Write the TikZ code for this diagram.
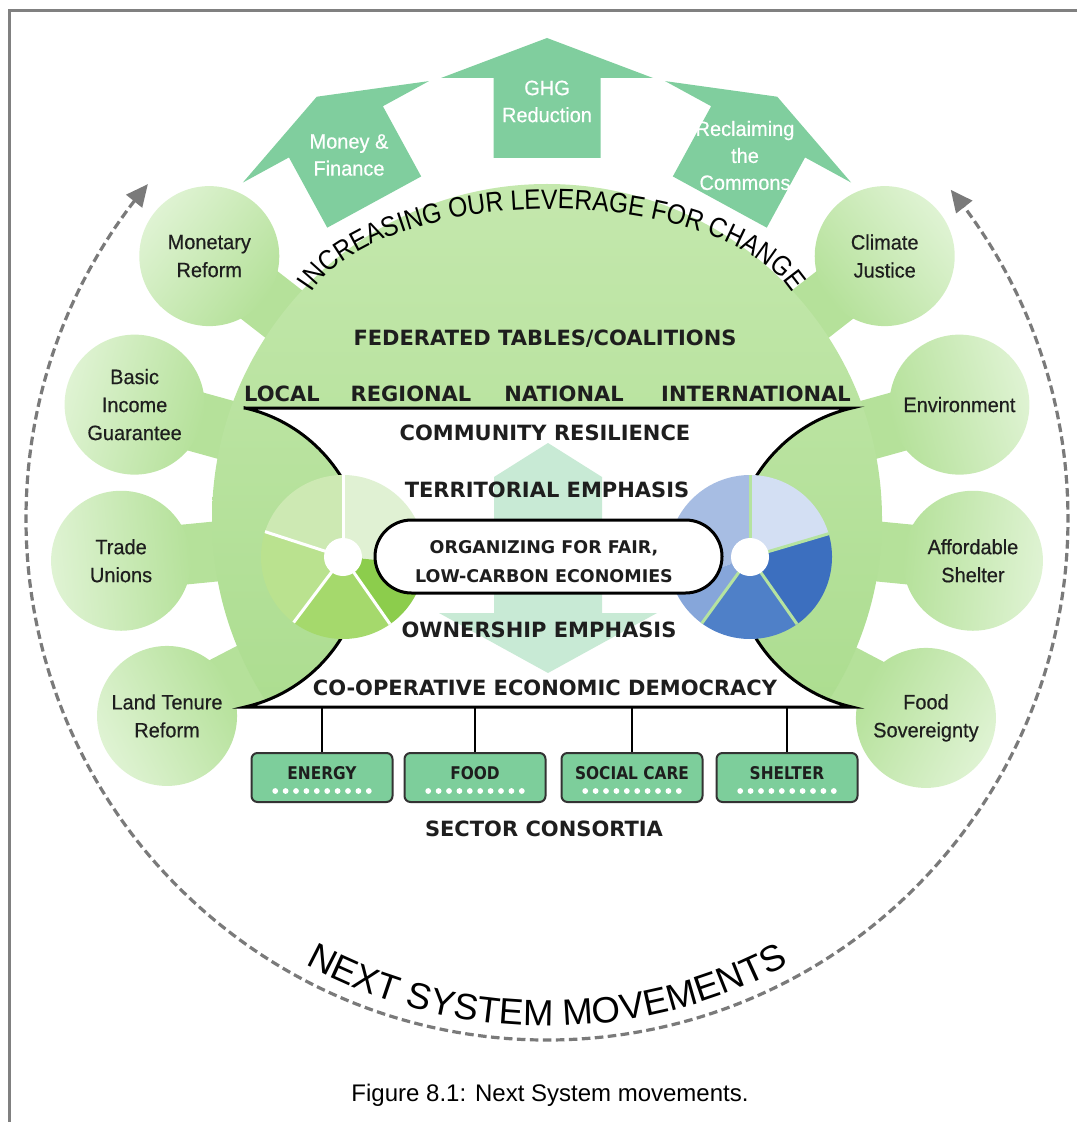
\documentclass[tikz,border=0pt]{standalone}
\usepackage{fontspec}
\setmainfont{Liberation Sans}
\newfontfamily\headfont{DejaVu Sans}
\newfontfamily\boxfont[FakeStretch=0.88]{DejaVu Sans}
\newfontfamily\arcfont[FakeStretch=0.88]{Liberation Sans}
\newfontfamily\circfont[FakeStretch=0.96,FakeBold=0.5]{Liberation Sans}
\usepackage{tikz}
\usetikzlibrary{arrows.meta,bending,positioning,calc,shapes.misc,decorations.text}

\definecolor{framegray}{RGB}{128,128,128}
\definecolor{dashgray}{RGB}{122,122,122}
\definecolor{arrowgreen}{RGB}{128,206,158}
\definecolor{boxgreen}{RGB}{125,206,155}
\definecolor{mint}{RGB}{200,234,213}
\definecolor{bigtop}{RGB}{196,232,173}
\definecolor{bigbot}{RGB}{166,218,136}
\definecolor{neckgreen}{RGB}{181,225,154}
\definecolor{circlight}{RGB}{223,243,211}
\definecolor{inkdark}{RGB}{30,30,30}
\definecolor{pieA}{RGB}{224,241,211}
\definecolor{pieB}{RGB}{205,233,179}
\definecolor{pieC}{RGB}{186,226,143}
\definecolor{pieD}{RGB}{165,217,108}
\definecolor{pieE}{RGB}{140,205,76}
\definecolor{blueA}{RGB}{211,223,243}
\definecolor{blueB}{RGB}{167,189,227}
\definecolor{blueC}{RGB}{134,166,218}
\definecolor{blueD}{RGB}{79,128,200}
\definecolor{blueE}{RGB}{60,111,191}
\definecolor{bluesep}{RGB}{181,227,160}

\tikzset{
  smallcirc/.style={circle, minimum size=70pt, inner sep=0pt, align=center,
    text=inkdark, font=\circfont\fontsize{10.4}{14}\selectfont},
  armlabel/.style={align=center, inner sep=0pt, text=white,
    font=\circfont\fontsize{10.4}{13.5}\selectfont},
  heading/.style={inner sep=0pt, text=inkdark,
    font=\headfont\bfseries\fontsize{10.5}{13}\selectfont},
  orglabel/.style={align=center, inner sep=0pt, text=inkdark,
    font=\headfont\bfseries\fontsize{8.75}{14.5}\selectfont},
  sectorbox/.style={draw=black!80, line width=1pt, fill=boxgreen,
    rounded corners=3pt, minimum width=70.5pt, minimum height=24.5pt},
  sectorlabel/.style={inner sep=0pt, text=inkdark,
    font=\boxfont\bfseries\fontsize{8.75}{10}\selectfont},
}

\begin{document}
\begin{tikzpicture}[x=0.5pt, y=0.5pt]
    \useasboundingbox (0,0) rectangle (1077,-1122);
    \coordinate (ctr) at (547,-519);
    \coordinate (hgbot) at (0,-707);

    % Frame ------------------------------------------------------------
    \draw[framegray, line width=1.5pt] (1077,-11) -- (9,-11) -- (9,-1122);

    % Next system movements ring ---------------------------------------
    \draw[dashgray, line width=1.6pt, dash pattern=on 4.3pt off 2.2pt,
          {Triangle[length=11pt,width=10pt]}-{Triangle[length=11pt,width=10pt]}]
        ($(ctr)+(140:521)$) arc[start angle=140, end angle=399.2, radius=521];
    \path[decorate, decoration={text along path, text align=center,
          text={|\fontsize{18.3}{20}\selectfont|NEXT SYSTEM MOVEMENTS}}]
        ($(ctr)+(230:507)$) arc[start angle=230, end angle=310, radius=507];

    % Leverage arrows --------------------------------------------------
    \foreach \rot in {28.6,0,-28.6}{
        \begin{scope}[shift={(547,-519)}, rotate=\rot]
            \fill[arrowgreen] (-53.5,361) -- (53.5,361) -- (53.5,441) -- (106,441)
                -- (0,481) -- (-106,441) -- (-53.5,441) -- cycle;
        \end{scope}
    }
    \node[armlabel] (moneylbl) at (349,-155) {Money \&\\Finance};
    \node[armlabel] (ghglbl) at (547,-101.5) {GHG\\Reduction};
    \node[armlabel] (commonslbl) at (745,-155.5) {Reclaiming\\the\\Commons};

    % Green body -------------------------------------------------------
    \begin{scope}
        \clip (0,0) rectangle (1077,-707);
        \foreach \ang in {142.1,164.5,185.6,207.4,37.9,15.5,-5.6,-27.7}
            \draw[neckgreen, line width=30pt] (ctr) -- ++(\ang:428);
        \shade[top color=bigtop, bottom color=bigbot] (ctr) circle (335);
    \end{scope}

    % Movements --------------------------------------------------------
    \foreach \ang/\nm/\txt [evaluate=\ang as \sa using \ang-90] in
        {142.1/monetary/{Monetary\\Reform}, 164.5/basic/{Basic\\Income\\Guarantee},
         185.6/trade/{Trade\\Unions}, 207.4/land/{Land Tenure\\Reform},
         37.9/climate/{Climate\\Justice}, 15.5/environ/{Environment},
         -5.6/affshelter/{Affordable\\Shelter}, -27.7/foodsov/{Food\\Sovereignty}}
        \node[smallcirc, top color=circlight, bottom color=neckgreen,
              shading angle=\sa] (\nm) at ($(ctr)+(\ang:428)$) {\txt};

    \path[decorate, decoration={text along path, text align=center,
          text={|\arcfont\fontsize{14}{16}\selectfont|INCREASING OUR LEVERAGE FOR CHANGE}}]
        ([shift={(168:250 and 116)}]552,-325) arc[start angle=168, end angle=12,
            x radius=250, y radius=116];

    % Tables -----------------------------------------------------------
    \node[heading] (federated) at (545,-339) {FEDERATED TABLES/COALITIONS};
    \node[heading] (local) at (282,-394) {LOCAL};
    \node[heading] (regional) at (411,-394) {REGIONAL};
    \node[heading] (national) at (564,-394) {NATIONAL};
    \node[heading] (international) at (756,-394) {INTERNATIONAL};

    % Hourglass --------------------------------------------------------
    \draw[line width=1.5pt, fill=white] (245,-408) -- (852,-408)
        arc[start angle=102.92, end angle=257.08, radius=153.4] -- (245,-707)
        arc[start angle=-77.08, end angle=77.08, radius=153.4] -- cycle;
    \fill[mint] (548,-443) -- (602,-477) -- (602,-613) -- (657,-613) -- (548,-673)
        -- (439,-613) -- (494,-613) -- (494,-477) -- cycle;

    % Pies -------------------------------------------------------------
    \foreach \a/\b/\c in {-5/90/pieA, 90/162/pieB, 162/233/pieC, 233/305/pieD, 305/355/pieE}
        \fill[\c] (343,-557) -- ++(\a:82) arc[start angle=\a, end angle=\b, radius=82] -- cycle;
    \foreach \a in {90,162,233,305}
        \draw[white, line width=1.5pt] (343,-557) -- ++(\a:82);
    \fill[white] (343,-557) circle (19);

    \foreach \a/\b/\c in {16.5/90/blueA, 90/200/blueB, 200/234/blueC, 234/305/blueD, 305/376.5/blueE}
        \fill[\c] (750,-557) -- ++(\a:82) arc[start angle=\a, end angle=\b, radius=82] -- cycle;
    \foreach \a in {16.5,90,234,305}
        \draw[bluesep, line width=1.5pt] (750,-557) -- ++(\a:82);
    \fill[white] (750,-557) circle (19);

    \node[rounded rectangle, draw, line width=1.5pt, fill=white, inner sep=0pt,
          minimum width=173.5pt, minimum height=36.5pt] (org) at (548.5,-556.5) {};
    \node[orglabel] (orgtxt) at (544,-561.5) {ORGANIZING FOR FAIR,\\LOW-CARBON ECONOMIES};

    \node[heading] (resilience) at (545,-433) {COMMUNITY RESILIENCE};
    \node[heading] (territorial) at (547,-490) {TERRITORIAL EMPHASIS};
    \node[heading] (ownership) at (539,-630) {OWNERSHIP EMPHASIS};
    \node[heading] (cooperative) at (545,-688) {CO-OPERATIVE ECONOMIC DEMOCRACY};

    % Sector consortia -------------------------------------------------
    \foreach \x/\nm/\lbl in {322/energy/ENERGY, 475/food/FOOD, 632/social/SOCIAL CARE, 787/shelter/SHELTER}{
        \node[sectorbox] (\nm) at (\x,-777.5) {};
        \node[sectorlabel] (\nm-lbl) at (\x,-773) {\lbl};
        \foreach \i in {0,...,9}
            \fill[white] ($(\nm.center)+(\i*10.4-46.8,-13.5)$) circle (2.9);
        \draw[line width=1pt] (\nm.north) -- (\nm.north |- hgbot);
    }
    \node[heading] (consortia) at (544,-829) {SECTOR CONSORTIA};

    \node[font=\fontsize{12}{14}\selectfont] (caption) at (550,-1095)
        {Figure 8.1: Next System movements.};
\end{tikzpicture}
\end{document}
